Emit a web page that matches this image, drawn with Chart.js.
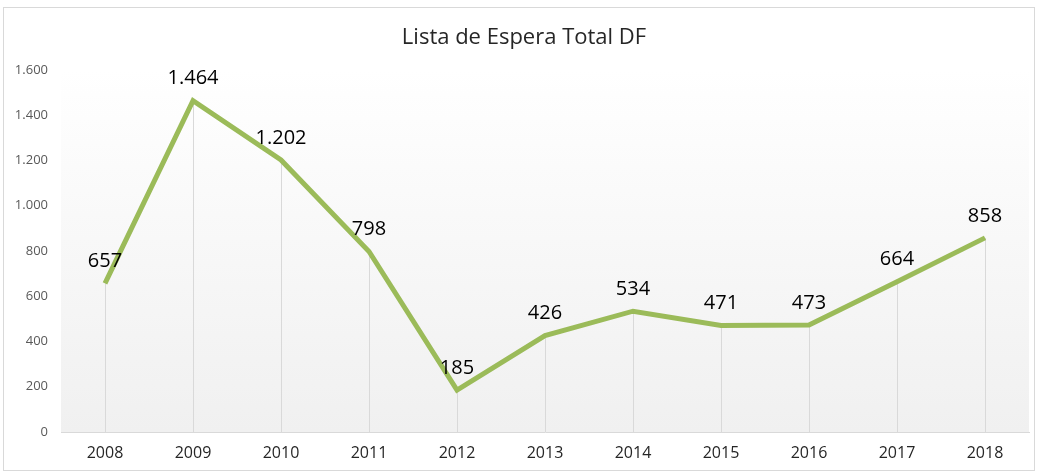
<!DOCTYPE html>
<html>
<head>
<meta charset="utf-8">
<script src="https://cdn.jsdelivr.net/npm/chart.js@4.4.1/dist/chart.umd.min.js"></script>
<style>
  html, body { margin: 0; padding: 0; background: #fff; }
  #wrap { position: relative; width: 1038px; height: 472px; }
</style>
</head>
<body>
<div id="wrap"><canvas id="chart" width="1038" height="472"></canvas></div>
<script>
// dados
const years = ['2008', '2009', '2010', '2011', '2012', '2013', '2014', '2015', '2016', '2017', '2018'];
const espera = [657, 1464, 1202, 798, 185, 426, 534, 471, 473, 664, 858];
const yTicks = [0, 200, 400, 600, 800, 1000, 1200, 1400, 1600];

const FONT = '"Open Sans", "Noto Sans", sans-serif';

// 1464 -> "1.464"
function fmt(v) {
    return String(v).replace(/\B(?=(\d{3})+(?!\d))/g, '.');
}

// moldura, fundo em degradê, linhas de chamada e rótulos
const excelLook = {
    id: 'excelLook',
    beforeDraw(chart) {
        const c = chart.ctx;
        const a = chart.chartArea;
        c.save();
        c.fillStyle = '#ffffff';
        c.fillRect(0, 0, chart.width, chart.height);
        c.strokeStyle = '#d9d9d9';
        c.lineWidth = 1;
        c.strokeRect(3.5, 7.5, chart.width - 7, chart.height - 9);
        const g = c.createLinearGradient(0, a.top, 0, a.bottom);
        g.addColorStop(0, '#ffffff');
        g.addColorStop(1, '#f0f0f0');
        c.fillStyle = g;
        c.fillRect(a.left, a.top, a.right - a.left, a.bottom - a.top);
        c.restore();
    },
    beforeDatasetsDraw(chart) {
        const c = chart.ctx;
        const meta = chart.getDatasetMeta(0);
        const base = chart.scales.y.getPixelForValue(0);
        c.save();
        c.strokeStyle = '#d9d9d9';
        c.lineWidth = 1;
        meta.data.forEach(p => {
            const x = Math.round(p.x) + 0.5;
            c.beginPath();
            c.moveTo(x, p.y);
            c.lineTo(x, base);
            c.stroke();
        });
        // título
        c.fillStyle = '#262626';
        c.font = '22px ' + FONT;
        c.textAlign = 'center';
        c.textBaseline = 'middle';
        c.fillText('Lista de Espera Total DF', 524, 38);
        c.restore();
    },
    afterDatasetsDraw(chart) {
        const c = chart.ctx;
        const meta = chart.getDatasetMeta(0);
        c.save();
        c.fillStyle = '#000000';
        c.font = '20px ' + FONT;
        c.textAlign = 'center';
        c.textBaseline = 'middle';
        meta.data.forEach((p, i) => {
            c.fillText(fmt(espera[i]), p.x, p.y - 22);
        });
        c.restore();
    }
};

new Chart(document.getElementById('chart').getContext('2d'), {
    type: 'line',
    data: {
        labels: years,
        datasets: [{
            label: 'Lista de Espera Total DF',
            data: espera,
            borderColor: '#9bbb59',
            borderWidth: 5,
            pointRadius: 0,
            tension: 0,
            fill: false,
            borderJoinStyle: 'miter',
        }]
    },
    options: {
        responsive: false,
        animation: false,
        layout: { padding: { top: 70, right: 9, bottom: 0, left: 0 } },
        plugins: {
            legend: { display: false },
            title: { display: false },
            tooltip: { enabled: false },
        },
        scales: {
            x: {
                offset: true,
                grid: { display: false, drawTicks: false },
                border: { display: true, color: '#d9d9d9', width: 1 },
                ticks: { color: '#262626', font: { family: FONT, size: 16 }, padding: 12 },
                afterFit(s) { s.height = 40; },
            },
            y: {
                min: 0,
                max: 1600,
                afterBuildTicks(s) { s.ticks = yTicks.map(v => ({ value: v })); },
                grid: { display: false, drawTicks: false },
                border: { display: false },
                ticks: {
                    color: '#595959',
                    font: { family: FONT, size: 13 },
                    padding: 13,
                    callback: v => fmt(v),
                },
                afterFit(s) { s.width = 61; },
            }
        }
    },
    plugins: [excelLook]
});
</script>
</body>
</html>
